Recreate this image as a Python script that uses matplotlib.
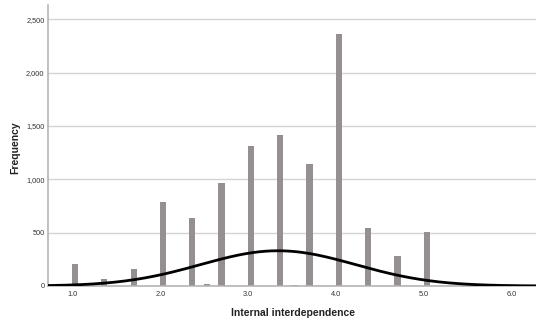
import numpy as np
import matplotlib.pyplot as plt

plt.rcParams['font.family'] = ['Liberation Sans', 'DejaVu Sans']

# scores and how often each one occurs
scores = np.array([1.0, 4/3, 5/3, 2.0, 7/3, 2.5, 8/3, 3.0, 10/3, 3.5, 11/3, 4.0, 13/3, 14/3, 5.0])
counts = np.array([205, 70, 163, 787, 641, 15, 969, 1312, 1415, 12, 1147, 2362, 547, 281, 509])

bin_width = 0.07
y_ticks = [0, 500, 1000, 1500, 2000, 2500]
x_ticks = [1.0, 2.0, 3.0, 4.0, 5.0, 6.0]

# normal curve from the sample mean and sd, scaled to counts per bin
n = counts.sum()
mean = np.sum(scores * counts) / n
sd = np.sqrt(np.sum(counts * (scores - mean) ** 2) / (n - 1))
xs = np.linspace(0.72, 6.27, 400)
curve = n * bin_width * np.exp(-0.5 * ((xs - mean) / sd) ** 2) / (sd * np.sqrt(2 * np.pi))

W, H = 536, 325
fig = plt.figure(figsize=(W / 100, H / 100), dpi=100)
ax = fig.add_axes([48 / W, 39 / H, 488 / W, 281 / H])

ax.bar(scores + 0.03, counts, width=bin_width, color='#968f92', zorder=2)
ax.plot(xs, curve, color='black', lw=2, zorder=3)

ax.set_xlim(0.724, 6.27)
ax.set_ylim(0, 2635)
ax.set_yticks(y_ticks)
ax.set_yticklabels([f'{v:,}' for v in y_ticks])
ax.set_xticks(x_ticks)
ax.set_xticklabels([f'{v:.1f}' for v in x_ticks])
ax.tick_params(length=0, labelsize=5.3, colors='#333333')
ax.tick_params(axis='y', pad=2.5)
ax.tick_params(axis='x', pad=3.5)
ax.grid(axis='y', color='#d4d4d4', lw=1, zorder=0)

for side in ['top', 'right']:
    ax.spines[side].set_visible(False)
ax.spines['left'].set_color('#b5b5b5')
ax.spines['bottom'].set_color('#b5b5b5')
ax.spines['left'].set_linewidth(1.2)
ax.spines['bottom'].set_linewidth(1.2)

# axis titles placed by hand
fig.text(293 / W, 1 - 313 / H, 'Internal interdependence', fontsize=7.5, fontweight='bold',
         color='#222222', ha='center', va='center')
fig.text(15.5 / W, 1 - 148 / H, 'Frequency', fontsize=7.5, fontweight='bold',
         color='#222222', ha='center', va='center', rotation=90)

fig.savefig('out.png', dpi=100)
